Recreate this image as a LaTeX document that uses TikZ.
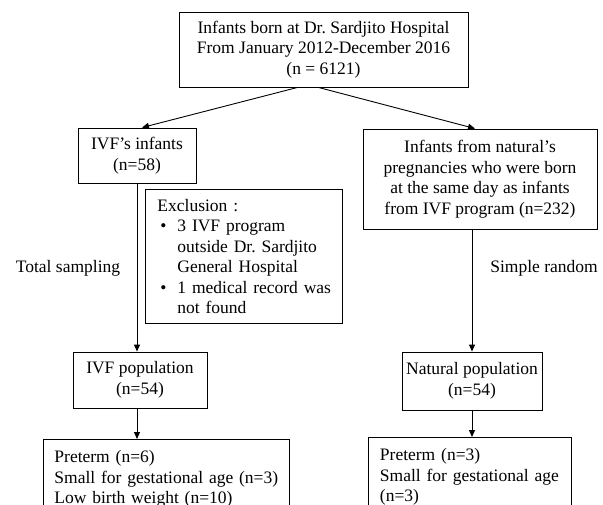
\documentclass[tikz,border=0pt]{standalone}
\usepackage{fontspec}
\setmainfont{Liberation Serif}
\usetikzlibrary{arrows.meta}
\frenchspacing
\begin{document}
\begin{tikzpicture}[x=1pt, y=-1pt,
    flowbox/.style={draw, line width=0.9pt, inner sep=0pt, align=center,
                    font=\fontsize{17.5}{20.5}\selectfont},
    listbox/.style={flowbox, align=left, anchor=north west},
    note/.style={font=\fontsize{17.5}{20.5}\selectfont},
    arr/.style={line width=0.9pt, -{Triangle[length=7pt, width=6pt]}}]
    \path[use as bounding box, clip] (0, 0) rectangle (603, 504);

    \node[flowbox, minimum width=289, minimum height=75] (born) at (323.5, 49.5)
        {Infants born at Dr. Sardjito Hospital\\From January 2012-December 2016\\(n = 6121)};
    \node[flowbox, minimum width=118, minimum height=55] (ivf) at (137, 155.5)
        {IVF’s infants\\(n=58)};
    \node[flowbox, minimum width=234, minimum height=100] (nat) at (480, 179)
        {Infants from natural’s\\pregnancies who were born\\at the same day as infants\\from IVF program (n=232)};
    \node[listbox, text width=173, inner xsep=12, minimum height=134] (excl) at (145, 189)
        {\mbox{Exclusion :}\\
         \mbox{\hspace*{3pt}\makebox[17pt][l]{\textbullet}3 IVF program}\\
         \mbox{\hspace*{20pt}outside Dr. Sardjito}\\
         \mbox{\hspace*{20pt}General Hospital}\\
         \mbox{\hspace*{3pt}\makebox[17pt][l]{\textbullet}1 medical record was}\\
         \mbox{\hspace*{20pt}not found}};
    \node[flowbox, minimum width=134, minimum height=56] (ivfpop) at (140, 380)
        {IVF population\\(n=54)};
    \node[flowbox, minimum width=140, minimum height=58] (natpop) at (472, 381)
        {Natural population\\(n=54)};
    \node[listbox, text width=224, inner xsep=11, inner ysep=11] (ivfout) at (43, 439)
        {Preterm (n=6)\\Small for gestational age (n=3)\\Low birth weight (n=10)};
    \node[listbox, text width=180, inner xsep=11.5, inner ysep=11] (natout) at (368, 437)
        {Preterm (n=3)\\Small for gestational age\\(n=3)};

    \node[note] (total) at (68, 268) {Total sampling};
    \node[note] (simple) at (544, 268) {Simple random};

    \draw[arr] ([xshift=-26]born.south) -- ([xshift=5]ivf.north);
    \draw[arr] ([xshift=-5]born.south) -- ([xshift=-5]nat.north);
    \draw[arr] (ivf.south) -- (ivf.south |- ivfpop.north);
    \draw[arr] (natpop.north |- nat.south) -- (natpop.north);
    \draw[arr] (ivf.south |- ivfpop.south) -- (ivf.south |- ivfout.north);
    \draw[arr] (natpop.south) -- (natpop.south |- natout.north);
\end{tikzpicture}
\end{document}
